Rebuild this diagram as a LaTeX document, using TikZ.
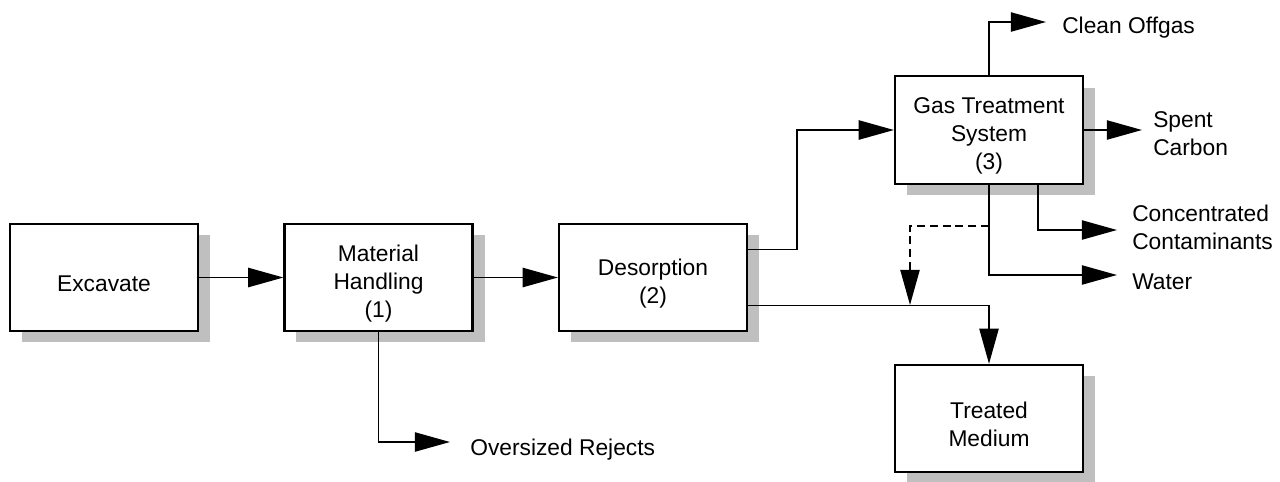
\documentclass[tikz,border=0pt]{standalone}
\usepackage{fontspec}
\setmainfont{Liberation Sans}
\usepackage{tikz}
\usetikzlibrary{arrows.meta,positioning,shadows}
\tikzset{
>={Triangle[length=0.88cm,width=0.48cm]},
  stage/.style={
    rectangle,
    draw=black, line width=1.5pt,
    fill=white,
    drop shadow={shadow xshift=0.3cm, shadow yshift=-0.28cm,
      fill=black!25, opacity=1},
    minimum width=4.7cm,
    minimum height=2.68cm,
    label={[stagetext]center:#1}},
  stagetext/.style={
    align=center, yshift=-0.15cm,
    font=\fontsize{16.2}{19.9}\selectfont},
  line/.style={draw, line width=1.3pt, ->},
  recycle/.style={dash pattern=on 0.2cm off 0.12cm},
  outtext/.style={anchor=west, inner sep=0pt, align=left,
    font=\fontsize{16.2}{19.9}\selectfont},
}
\begin{document}
\begin{tikzpicture}[x=0.025cm,y=-0.025cm]
      \useasboundingbox (0,0) rectangle (1280,481);

      % process stages
      \node[stage={Excavate}] (excavate) at (104,277.5) {};
      \node[stage={Material\\Handling\\(1)}] (handling) at (378.5,277.5) {};
      \node[stage={Desorption\\(2)}] (desorb) at (653,277.5) {};
      \node[stage={Gas Treatment\\System\\(3)}] (gas) at (989,130) {};
      \node[stage={Treated\\Medium}] (medium) at (989,418.5) {};

      % free ends of the output streams
      \coordinate (rejects) at (450,442);
      \coordinate (offgas) at (1046,22);
      \coordinate (carbon) at (1142,130);
      \coordinate (conc) at (1117,230);
      \coordinate (water) at (1117,275);
      \coordinate (mix) at (910,305);

      \draw[line] (excavate) -- (handling);
      \draw[line] (handling) -- (desorb);
      \draw[line] ([yshift=0.7cm]desorb.east) -- ++(49,0) |- (gas.west);
      \draw[line] ([yshift=-0.7cm]desorb.east) -| (medium.north);
      \draw[line] (handling.south) |- (rejects);
      \draw[line] (gas.north) |- (offgas);
      \draw[line] (gas.east) -- (carbon);
      \draw[line] ([xshift=1.225cm]gas.south) |- (conc);
      \draw[line] (gas.south) |- (water);
      \draw[line, recycle] ([yshift=-1.025cm]gas.south) -| (mix);

      \node[outtext] (rejectstxt) at (470,450) {Oversized Rejects};
      \node[outtext] (offgastxt) at (1062,28) {Clean Offgas};
      \node[outtext] (carbontxt) at (1153,134) {Spent\\Carbon};
      \node[outtext] (conctxt) at (1132,227) {Concentrated\\Contaminants};
      \node[outtext] (watertxt) at (1132,282) {Water};
    \end{tikzpicture}
\end{document}
